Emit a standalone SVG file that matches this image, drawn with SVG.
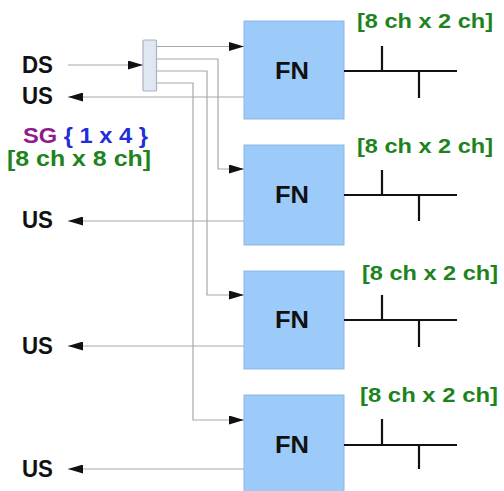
<svg xmlns="http://www.w3.org/2000/svg" width="504" height="491" viewBox="0 0 504 491">
<style>
.bg{fill:#ffffff}
.fn{fill:#9ccbfa;stroke:#8db8e4;stroke-width:1}
.sp{fill:#dfe7f3;stroke:#a9b2bf;stroke-width:1.2}
.ln{fill:none;stroke:#a8a8a8;stroke-width:1.2}
.arr{marker-end:url(#ah)}
.bus{fill:none;stroke:#111;stroke-width:2.2}
.t{font-family:"Liberation Sans",Arial,sans-serif;font-weight:bold}
.blk{fill:#111;font-size:23px}
.fnt{fill:#111;font-size:23px}
.grn{fill:#1d841d;font-size:21px}
.pur{fill:#8e1c8e}
.blu{fill:#1f2fd8}
</style>
<defs>
<marker id="ah" markerUnits="userSpaceOnUse" markerWidth="15" markerHeight="9" refX="15" refY="4.5" orient="auto">
<path d="M0,0 L15,4.5 L0,9 z" fill="#111"/>
</marker>
</defs>
<rect class="bg" x="0" y="0" width="504" height="491"/>

<g id="connectors">
<line class="ln arr" x1="68" y1="65" x2="143" y2="65"/>
<line class="ln arr" x1="157" y1="46.5" x2="244" y2="46.5"/>
<polyline class="ln arr" points="157,59 218,59 218,169 244,169"/>
<polyline class="ln arr" points="157,71 207,71 207,295 244,295"/>
<polyline class="ln arr" points="157,83 193,83 193,420 244,420"/>
<line class="ln arr" x1="244" y1="97" x2="68" y2="97"/>
<line class="ln arr" x1="244" y1="221" x2="68" y2="221"/>
<line class="ln arr" x1="244" y1="346" x2="68" y2="346"/>
<line class="ln arr" x1="244" y1="469" x2="68" y2="469"/>
</g>

<g id="splitter">
<rect class="sp" x="143" y="40" width="13.5" height="51" rx="1"/>
</g>

<g id="labels-left">
<text class="t blk" x="22" y="73" textLength="31" lengthAdjust="spacingAndGlyphs">DS</text>
<text class="t blk" x="22" y="104" textLength="31" lengthAdjust="spacingAndGlyphs">US</text>
<text class="t blk" x="22" y="228" textLength="31" lengthAdjust="spacingAndGlyphs">US</text>
<text class="t blk" x="22" y="354" textLength="31" lengthAdjust="spacingAndGlyphs">US</text>
<text class="t blk" x="22" y="477" textLength="31" lengthAdjust="spacingAndGlyphs">US</text>
<text class="t" x="23" y="143" style="font-size:22px" textLength="125" lengthAdjust="spacingAndGlyphs"><tspan class="pur">SG</tspan><tspan class="blu"> { 1 x 4 }</tspan></text>
<text class="t grn" x="7" y="166" style="font-size:22px" textLength="144" lengthAdjust="spacingAndGlyphs">[8 ch x 8 ch]</text>
</g>

<g id="fn1">
<rect class="fn" x="244" y="21" width="100" height="98"/>
<text class="t fnt" x="275" y="79" textLength="34" lengthAdjust="spacingAndGlyphs">FN</text>
<path class="bus" d="M344,71 H457 M382,46 V71 M419,71 V98"/>
<text class="t grn" x="357" y="28" textLength="136" lengthAdjust="spacingAndGlyphs">[8 ch x 2 ch]</text>
</g>

<g id="fn2">
<rect class="fn" x="244" y="145" width="100" height="100"/>
<text class="t fnt" x="275" y="203" textLength="34" lengthAdjust="spacingAndGlyphs">FN</text>
<path class="bus" d="M344,195 H457 M382,170 V195 M419,195 V221"/>
<text class="t grn" x="357" y="153" textLength="136" lengthAdjust="spacingAndGlyphs">[8 ch x 2 ch]</text>
</g>

<g id="fn3">
<rect class="fn" x="244" y="271" width="100" height="98"/>
<text class="t fnt" x="275" y="328" textLength="34" lengthAdjust="spacingAndGlyphs">FN</text>
<path class="bus" d="M344,320 H457 M382,295 V320 M419,320 V347"/>
<text class="t grn" x="362" y="280" textLength="136" lengthAdjust="spacingAndGlyphs">[8 ch x 2 ch]</text>
</g>

<g id="fn4">
<rect class="fn" x="244" y="395" width="100" height="100"/>
<text class="t fnt" x="275" y="453" textLength="34" lengthAdjust="spacingAndGlyphs">FN</text>
<path class="bus" d="M344,445 H457 M382,419 V445 M419,445 V469"/>
<text class="t grn" x="360" y="402" textLength="138" lengthAdjust="spacingAndGlyphs">[8 ch x 2 ch]</text>
</g>
</svg>
